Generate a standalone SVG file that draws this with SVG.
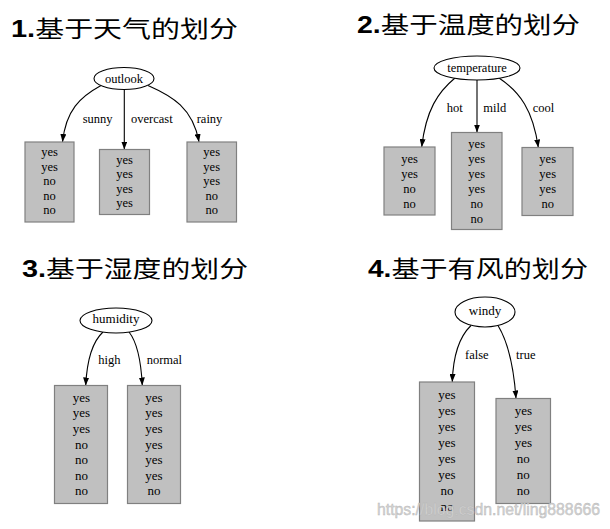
<svg xmlns="http://www.w3.org/2000/svg" width="610" height="529" viewBox="0 0 610 529">
<defs>
<marker id="ah" markerWidth="8" markerHeight="6" refX="8" refY="3" orient="auto" markerUnits="userSpaceOnUse">
<path d="M0,0 L8,3 L0,6 z" fill="#000"/>
</marker>
<style>
.title{font-family:"Liberation Sans","Noto Sans CJK SC",sans-serif;font-size:23px;fill:#000}
.num{font-weight:bold}
.cjk{font-family:"Noto Sans CJK SC",sans-serif;font-weight:normal}
.node ellipse{fill:#fff;stroke:#000;stroke-width:1.1}
.box{fill:#c0c0c0;stroke:#808080;stroke-width:1.2}
.t{font-family:"Liberation Serif",serif;font-size:12.5px;fill:#000;text-anchor:middle}
.t13{font-size:13px}
.lbl{font-family:"Liberation Serif",serif;font-size:12.5px;fill:#000}
.edge{fill:none;stroke:#000;stroke-width:1.1;marker-end:url(#ah)}
.wm{font-family:"Liberation Sans",sans-serif;font-size:16px;fill:#d4d4d4;stroke:#b5b5b5;stroke-width:0.4}
</style>
</defs>
<rect width="610" height="529" fill="#fff"/>

<g id="titles">
<text class="title" x="11" y="37" textLength="227" lengthAdjust="spacingAndGlyphs"><tspan class="num">1.</tspan><tspan class="cjk">基于天气的划分</tspan></text>
<text class="title" x="357" y="32.5" textLength="223" lengthAdjust="spacingAndGlyphs"><tspan class="num">2.</tspan><tspan class="cjk">基于温度的划分</tspan></text>
<text class="title" x="22" y="277" textLength="226" lengthAdjust="spacingAndGlyphs"><tspan class="num">3.</tspan><tspan class="cjk">基于湿度的划分</tspan></text>
<text class="title" x="368" y="276.5" textLength="220" lengthAdjust="spacingAndGlyphs"><tspan class="num">4.</tspan><tspan class="cjk">基于有风的划分</tspan></text>
</g>

<g id="connectors">
<path class="edge" d="M101,85.5 C80,97 66,110 62.5,142"/>
<path class="edge" d="M124.3,89.5 L124.3,149.5"/>
<path class="edge" d="M148,85.5 C172,96 193,108 199,142"/>
<path class="edge" d="M455,78 C438,92 426,110 421.7,147"/>
<path class="edge" d="M477,80 L477,132.5"/>
<path class="edge" d="M499,78 C520,92 533,110 538.3,147.5"/>
<path class="edge" d="M103,332 C92,342 87,360 85.7,385.5"/>
<path class="edge" d="M129,332 C137,342 141,360 142.3,385.5"/>
<path class="edge" d="M471,325.5 C458,338 453,358 452.3,382"/>
<path class="edge" d="M498,325.5 C508,342 514,370 516,398.5"/>
</g>

<g id="edge-labels">
<text class="lbl" x="82.7" y="123">sunny</text>
<text class="lbl" x="131" y="123">overcast</text>
<text class="lbl" x="196.7" y="123">rainy</text>
<text class="lbl" x="446.7" y="112">hot</text>
<text class="lbl" x="483.3" y="112">mild</text>
<text class="lbl" x="532.7" y="112">cool</text>
<text class="lbl" x="98.3" y="364">high</text>
<text class="lbl" x="146.7" y="364">normal</text>
<text class="lbl" x="465" y="359">false</text>
<text class="lbl" x="516" y="359">true</text>
</g>

<g id="outlook" class="node">
<ellipse cx="124" cy="78.5" rx="30" ry="11"/>
<text class="t" x="124" y="82.5">outlook</text>
</g>
<g id="temperature" class="node">
<ellipse cx="477" cy="68" rx="43" ry="12"/>
<text class="t" x="477" y="72">temperature</text>
</g>
<g id="humidity" class="node">
<ellipse cx="116" cy="320.5" rx="36" ry="12.5"/>
<text class="t t13" x="116" y="322.5">humidity</text>
</g>
<g id="windy" class="node">
<ellipse cx="485" cy="312" rx="30" ry="15"/>
<text class="t t13" x="485" y="315">windy</text>
</g>

<g id="sunny-box">
<rect class="box" x="25" y="142" width="49" height="80"/>
<text class="t" x="49.5" y="156">yes</text>
<text class="t" x="49.5" y="170.5">yes</text>
<text class="t" x="49.5" y="185">no</text>
<text class="t" x="49.5" y="199.5">no</text>
<text class="t" x="49.5" y="214">no</text>
</g>
<g id="overcast-box">
<rect class="box" x="99.5" y="149.5" width="50" height="65"/>
<text class="t" x="124.5" y="163.5">yes</text>
<text class="t" x="124.5" y="178">yes</text>
<text class="t" x="124.5" y="192.5">yes</text>
<text class="t" x="124.5" y="207">yes</text>
</g>
<g id="rainy-box">
<rect class="box" x="187" y="142" width="49.5" height="80"/>
<text class="t" x="211.7" y="156">yes</text>
<text class="t" x="211.7" y="170.5">yes</text>
<text class="t" x="211.7" y="185">yes</text>
<text class="t" x="211.7" y="199.5">no</text>
<text class="t" x="211.7" y="214">no</text>
</g>

<g id="hot-box">
<rect class="box" x="384" y="147" width="51" height="68"/>
<text class="t" x="409.5" y="162.5">yes</text>
<text class="t" x="409.5" y="177.5">yes</text>
<text class="t" x="409.5" y="192.5">no</text>
<text class="t" x="409.5" y="207.5">no</text>
</g>
<g id="mild-box">
<rect class="box" x="451.5" y="132.5" width="50.5" height="97"/>
<text class="t" x="476.7" y="147.5">yes</text>
<text class="t" x="476.7" y="162.5">yes</text>
<text class="t" x="476.7" y="177.5">yes</text>
<text class="t" x="476.7" y="192.5">yes</text>
<text class="t" x="476.7" y="207.5">no</text>
<text class="t" x="476.7" y="222.5">no</text>
</g>
<g id="cool-box">
<rect class="box" x="522" y="147.5" width="51" height="68"/>
<text class="t" x="547.7" y="162.5">yes</text>
<text class="t" x="547.7" y="177.5">yes</text>
<text class="t" x="547.7" y="192.5">yes</text>
<text class="t" x="547.7" y="207.5">no</text>
</g>

<g id="high-box">
<rect class="box" x="54.5" y="385.5" width="53" height="118"/>
<text class="t t13" x="81.5" y="401.8">yes</text>
<text class="t t13" x="81.5" y="417.4">yes</text>
<text class="t t13" x="81.5" y="433">yes</text>
<text class="t t13" x="81.5" y="448.6">no</text>
<text class="t t13" x="81.5" y="464.2">no</text>
<text class="t t13" x="81.5" y="479.8">no</text>
<text class="t t13" x="81.5" y="495.4">no</text>
</g>
<g id="normal-box">
<rect class="box" x="127.5" y="385.5" width="53" height="118"/>
<text class="t t13" x="154" y="401.8">yes</text>
<text class="t t13" x="154" y="417.4">yes</text>
<text class="t t13" x="154" y="433">yes</text>
<text class="t t13" x="154" y="448.6">yes</text>
<text class="t t13" x="154" y="464.2">yes</text>
<text class="t t13" x="154" y="479.8">yes</text>
<text class="t t13" x="154" y="495.4">no</text>
</g>

<g id="false-box">
<rect class="box" x="419.5" y="382" width="55" height="139"/>
<text class="t t13" x="447" y="398.5">yes</text>
<text class="t t13" x="447" y="414.5">yes</text>
<text class="t t13" x="447" y="430.5">yes</text>
<text class="t t13" x="447" y="446.5">yes</text>
<text class="t t13" x="447" y="462.5">yes</text>
<text class="t t13" x="447" y="478.5">yes</text>
<text class="t t13" x="447" y="494.5">no</text>
<text class="t t13" x="447" y="510.5">no</text>
</g>
<g id="true-box">
<rect class="box" x="496" y="398.5" width="54.5" height="105"/>
<text class="t t13" x="523.3" y="414.5">yes</text>
<text class="t t13" x="523.3" y="430.5">yes</text>
<text class="t t13" x="523.3" y="446.5">yes</text>
<text class="t t13" x="523.3" y="462.5">no</text>
<text class="t t13" x="523.3" y="478.5">no</text>
<text class="t t13" x="523.3" y="494.5">no</text>
</g>

<text class="wm" x="377" y="515" textLength="223" lengthAdjust="spacingAndGlyphs">https://blog.csdn.net/ling888666</text>
</svg>
